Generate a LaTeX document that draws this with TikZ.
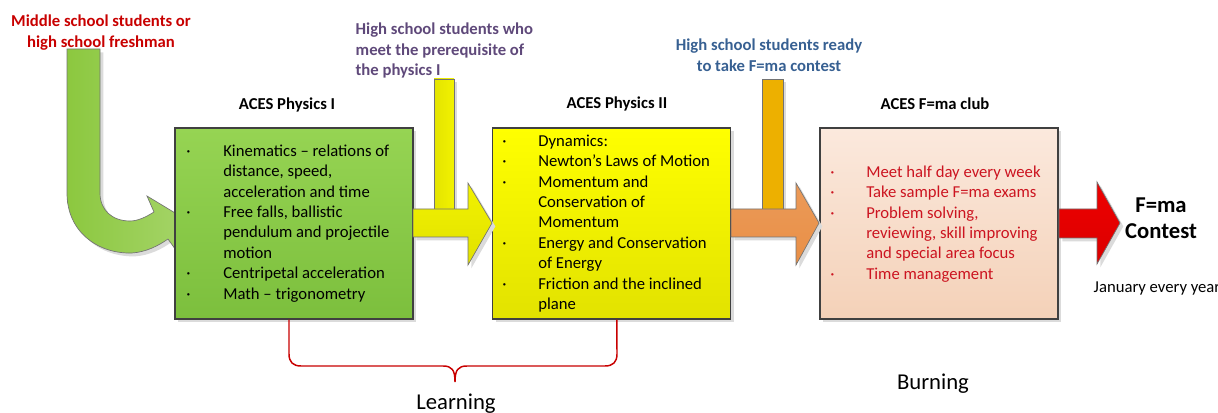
\documentclass[tikz,border=0pt]{standalone}
\usepackage{fontspec}
\setmainfont{Carlito}
\usetikzlibrary{shadows}
\definecolor{boxLine}{HTML}{404040}
\definecolor{oneTop}{HTML}{96D453}
\definecolor{oneBot}{HTML}{7CBF3D}
\definecolor{twoTop}{HTML}{FFFF00}
\definecolor{twoBot}{HTML}{E2E200}
\definecolor{clubTop}{HTML}{FBE9DD}
\definecolor{clubBot}{HTML}{F4D1B8}
\definecolor{arrGreen}{HTML}{8CC83F}
\definecolor{arrYellow}{HTML}{F2F200}
\definecolor{arrGold}{HTML}{EDB000}
\definecolor{arrOrange}{HTML}{E98F46}
\definecolor{arrRed}{HTML}{EE0000}
\definecolor{labRed}{HTML}{C80000}
\definecolor{labPurple}{HTML}{5F497A}
\definecolor{labBlue}{HTML}{376092}
\definecolor{clubRed}{HTML}{CC1420}
\newcommand{\stagefont}{\fontsize{12.5pt}{15.4pt}\selectfont}
\newcommand{\contestfont}{\fontsize{17pt}{19.5pt}\selectfont}

\begin{document}
\begin{tikzpicture}[x=0.75pt, y=-0.75pt,
    softshadow/.style={drop shadow={shadow xshift=2.5pt, shadow yshift=-2.5pt, fill=black!14, opacity=1}},
    stagebox/.style={draw=boxLine, line width=0.8pt, minimum width=238*0.75pt, minimum height=191*0.75pt, inner sep=0pt, softshadow},
    blockarrow/.style={draw=black!55, line width=0.5pt, softshadow},
    itemline/.style={anchor=west, inner sep=0pt, font=\stagefont, text height=9pt, text depth=2.6pt},
    stagetitle/.style={font=\stagefont\bfseries},
    learnbrace/.style={draw=labRed, line width=1.1pt}]
    \useasboundingbox (0,0) rectangle (1218,413);

    % Entry arrow, bent into the first stage
    \path[blockarrow, left color=arrGreen, right color=arrGreen!78!white]
        (67,49) -- (67,193) .. controls (67,232) and (98,254) .. (132,253)
        .. controls (146,252) and (158,246) .. (168,239) -- (178,253) -- (190,222)
        -- (147,196) -- (154,212) .. controls (146,217) and (138,221) .. (130,221)
        .. controls (112,221) and (100,210) .. (100,193) -- (100,49) -- cycle;

    % Stages
    \node[stagebox, top color=oneTop, bottom color=oneBot] (phys1) at (294,223.5) {};
    \node[stagebox, top color=twoTop, bottom color=twoBot] (phys2) at (611.5,223.5) {};
    \node[stagebox, top color=clubTop, bottom color=clubBot] (club) at (939,223.5) {};

    \node[stagetitle] (phys1title) at (287,105) {ACES Physics I};
    \node[stagetitle] (phys2title) at (617,104) {ACES Physics II};
    \node[stagetitle] (clubtitle) at (935,104) {ACES F=ma club};

    % Side inflows
    \path[blockarrow, left color=arrYellow!94!black, right color=arrYellow] (434,79) rectangle (454,209);
    \path[blockarrow, fill=arrGold] (762,79) rectangle (783,209);

    % Arrows between stages
    \path[blockarrow, top color=arrYellow, bottom color=arrYellow!93!black]
        (413,209) -- (468,209) -- (468,183) -- (492,223) -- (468,265) -- (468,237) -- (413,237) -- cycle;
    \path[blockarrow, top color=arrOrange!90!white, bottom color=arrOrange]
        (731,209) -- (796,209) -- (796,183) -- (819,223) -- (796,265) -- (796,237) -- (731,237) -- cycle;
    \path[blockarrow, top color=arrRed, bottom color=arrRed!92!black]
        (1059,209) -- (1097,209) -- (1097,182) -- (1120,223) -- (1097,264) -- (1097,238) -- (1059,238) -- cycle;

    % Who comes in
    \node[stagetitle, text=labRed, align=center] (fresh) at (101,32.5)
        {Middle school students or\\high school freshman};
    \node[stagetitle, text=labPurple, align=left, anchor=west] (prereq) at (351,50.5)
        {High school students who\\meet the prerequisite of\\the physics I};
    \node[stagetitle, text=labBlue, align=center] (ready) at (769,55)
        {High school students ready\\to take F=ma contest};

    % Topics
    \foreach \txt [count=\i from 0] in {Kinematics – relations of, {distance, speed,},
        acceleration and time, {Free falls, ballistic}, pendulum and projectile, motion,
        Centripetal acceleration, Math – trigonometry} {
        \node[itemline] (one\i) at (223, 152+20.4*\i) {\txt};
    }
    \foreach \i in {0,3,6,7}
        \node[itemline] (onedot\i) at (186, 152+20.4*\i) {·};

    \foreach \txt [count=\i from 0] in {Dynamics:, Newton’s Laws of Motion, Momentum and,
        Conservation of, Momentum, Energy and Conservation, of Energy,
        Friction and the inclined, plane} {
        \node[itemline] (two\i) at (538, 142+20.4*\i) {\txt};
    }
    \foreach \i in {0,1,2,5,7}
        \node[itemline] (twodot\i) at (502, 142+20.4*\i) {·};

    \foreach \txt [count=\i from 0] in {Meet half day every week, Take sample F=ma exams,
        {Problem solving,}, {reviewing, skill improving}, and special area focus,
        Time management} {
        \node[itemline, text=clubRed] (club\i) at (866, 173+20.4*\i) {\txt};
    }
    \foreach \i in {0,1,2,5}
        \node[itemline, text=clubRed] (clubdot\i) at (830, 173+20.4*\i) {·};

    % Contest
    \node[font=\contestfont\bfseries, align=center] (contest) at (1161,218) {F=ma\\Contest};
    \node[font=\stagefont, anchor=west] (january) at (1089,288) {January every year};

    % Phases
    \draw[learnbrace] ([xshift=-3.75pt]phys1.south) -- (289,354)
        .. controls (289,362) and (293,366) .. (301,366) -- (443,366)
        .. controls (452,366) and (455,370) .. (455,382)
        .. controls (455,370) and (458,366) .. (467,366) -- (605,366)
        .. controls (613,366) and (617,362) .. (617,354)
        -- ([xshift=4pt]phys2.south);
    \node[font=\contestfont, anchor=base] (learning) at (456,409.5) {Learning};
    \node[font=\contestfont] (burning) at (933,384) {Burning};
\end{tikzpicture}
\end{document}
